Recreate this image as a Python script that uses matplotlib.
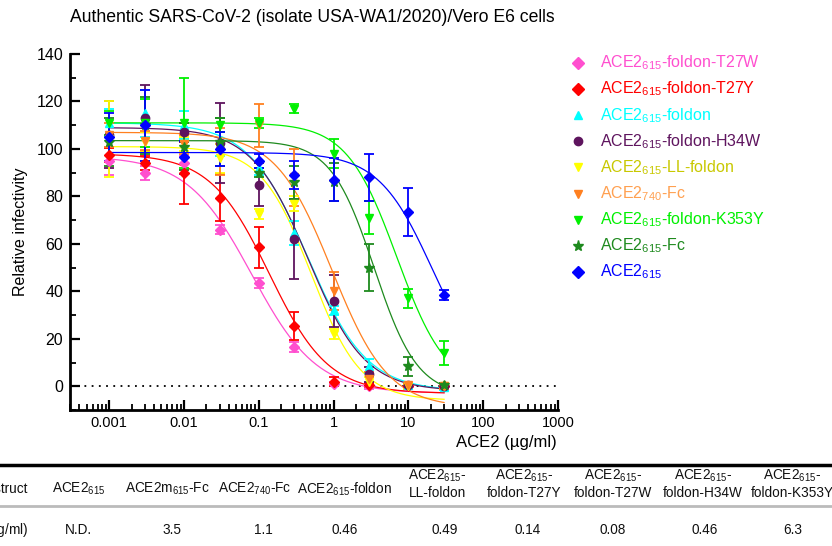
import numpy as np
import matplotlib
matplotlib.use("Agg")
import matplotlib.pyplot as plt
from matplotlib.lines import Line2D

plt.rcParams['font.family'] = ['Liberation Sans', 'DejaVu Sans']
plt.rcParams['mathtext.fontset'] = 'custom'
plt.rcParams['mathtext.rm'] = 'Liberation Sans'
plt.rcParams['mathtext.it'] = 'Liberation Sans:italic'
plt.rcParams['mathtext.bf'] = 'Liberation Sans:bold'

# concentrations (ug/ml)
conc = [0.001, 0.003, 0.01, 0.03, 0.1, 0.3, 1, 3, 10, 30]

# mean relative infectivity and error per construct
t27w = [95, 90, 94, 66, 43.5, 16.5, 1, 0, 0, 0]
t27w_err = [6, 3, 3, 2, 2, 2, 1, 1, 1, 1]
t27y = [97.5, 94, 90, 79.5, 58.5, 25.5, 2, 0.5, 0, 0]
t27y_err = [3, 3, 13, 10, 8.5, 6, 2, 1, 1, 1]
foldon = [111, 115, 110, 102, 92, 64.5, 32, 8.5, 0.5, -0.5]
foldon_err = [6, 10, 6, 5, 3, 5, 2, 3, 1, 1]
h34w = [106, 113, 107, 102.5, 85, 62, 36, 5, 0.5, 0]
h34w_err = [14, 14, 4, 17, 9, 17, 11, 3, 1, 1]
ll_foldon = [104, 103, 102, 96, 72.5, 77, 22, 2, 0, 0]
ll_foldon_err = [16, 4, 3, 6, 2, 3, 2, 2, 1, 1]
fc740 = [106, 103.5, 102, 99, 110, 88, 40, 3, 0.5, 0]
fc740_err = [5, 4, 4, 10, 9, 12, 8, 3, 1, 1]
k353y = [111, 111, 111, 110, 111, 117, 98, 71, 37, 14]
k353y_err = [5, 10, 19, 3, 2, 2, 6, 7, 4, 5]
fc615 = [103, 110, 101, 103, 90, 86, 86, 50, 8.5, 0.5]
fc615_err = [10, 12, 10, 10, 2, 7, 8, 10, 4, 1]
ace2_615 = [105, 110, 96.5, 100, 95, 89, 87, 88, 73.5, 38.5]
ace2_615_err = [10, 15, 7, 7, 3, 6, 9, 10, 10, 2]

# fitted dose-response parameters (top, bottom, IC50, hill)
fit_top = [97, 98, 111, 109, 101, 107, 111, 103.5, 98.5]
fit_bottom = [-3, -3, -2, -2, -6, -9, -2, -4, 0]
fit_ic50 = [0.081, 0.138, 0.45, 0.46, 0.5, 0.95, 7, 3.5, 21]
fit_hill = [1.0, 1.1, 1.1, 1.15, 1.3, 1.15, 1.3, 1.5, 1.2]

labels = [r'ACE2$_{615}$-foldon-T27W', r'ACE2$_{615}$-foldon-T27Y', r'ACE2$_{615}$-foldon',
          r'ACE2$_{615}$-foldon-H34W', r'ACE2$_{615}$-LL-foldon', r'ACE2$_{740}$-Fc',
          r'ACE2$_{615}$-foldon-K353Y', r'ACE2$_{615}$-Fc', r'ACE2$_{615}$']
means = [t27w, t27y, foldon, h34w, ll_foldon, fc740, k353y, fc615, ace2_615]
errs = [t27w_err, t27y_err, foldon_err, h34w_err, ll_foldon_err, fc740_err,
        k353y_err, fc615_err, ace2_615_err]
colors = ['#FF4FCF', '#FF0000', '#00FFFF', '#5E145E', '#FFFF00', '#FF8020',
          '#00F000', '#1E8A1E', '#0000FF']
text_colors = ['#FF4FCF', '#FF0000', '#00FFFF', '#5E145E', '#C8C800', '#FFA050',
               '#00F000', '#1E8A1E', '#0000FF']
markers = ['D', 'D', '^', 'o', 'v', 'v', 'v', '*', 'D']

# table
table_cols = ['Construct', r'ACE2$_{615}$', r'ACE2m$_{615}$-Fc', r'ACE2$_{740}$-Fc',
              r'ACE2$_{615}$-foldon', 'ACE2$_{615}$-\nLL-foldon', 'ACE2$_{615}$-\nfoldon-T27Y',
              'ACE2$_{615}$-\nfoldon-T27W', 'ACE2$_{615}$-\nfoldon-H34W', 'ACE2$_{615}$-\nfoldon-K353Y']
table_vals = [r'IC$_{50}$ (µg/ml)', 'N.D.', '3.5', '1.1', '0.46', '0.49', '0.14', '0.08', '0.46', '6.3']


def logistic(x, top, bottom, ic50, hill):
    return bottom + (top - bottom) / (1 + (x / ic50) ** hill)


W, H = 832, 546
fig = plt.figure(figsize=(W / 100, H / 100), dpi=100)
ax = fig.add_axes([70 / W, 1 - 410 / H, (558 - 70) / W, (410 - 54) / H])

xs = np.logspace(-3, np.log10(30), 300)
for i in range(len(means)):
    ax.plot(xs, logistic(xs, fit_top[i], fit_bottom[i], fit_ic50[i], fit_hill[i]),
            color=colors[i], lw=0.9, zorder=2)
for i in range(len(means)):
    ms = 7.5 if markers[i] == '*' else 6
    if markers[i] == 'D':
        ms = 5.5
    ax.errorbar(conc, means[i], yerr=errs[i], fmt=markers[i], color=colors[i],
                ms=ms, elinewidth=1.3, capsize=3.6, capthick=1.3, zorder=3)

ax.axhline(0, color='black', ls=(0, (1, 3)), lw=1.3, zorder=1)

ax.set_xscale('log')
ax.set_xlim(0.0003, 1000)
ax.set_ylim(-10, 140)
ax.set_yticks(range(0, 141, 20))
ax.set_yticks(range(-10, 141, 10), minor=True)
ax.set_xticks([0.001, 0.01, 0.1, 1, 10, 100, 1000])
ax.set_xticklabels(['0.001', '0.01', '0.1', '1', '10', '100', '1000'])
ax.tick_params(axis='both', which='major', direction='in', length=7, width=1.6)
ax.tick_params(axis='both', which='minor', direction='in', length=4, width=1.3)
ax.tick_params(axis='y', labelsize=11.5, pad=5)
ax.tick_params(axis='x', labelsize=10.5, pad=4)
ax.spines['top'].set_visible(False)
ax.spines['right'].set_visible(False)
ax.spines['left'].set_linewidth(2)
ax.spines['bottom'].set_linewidth(2)
ax.set_ylabel('Relative infectivity', fontsize=11.5, labelpad=6)

fig.text(70 / W, 1 - 18 / H, 'Authentic SARS-CoV-2 (isolate USA-WA1/2020)/Vero E6 cells',
         fontsize=12.7, ha='left', va='center')
fig.text(506 / W, 1 - 443 / H, 'ACE2 (µg/ml)', fontsize=12, ha='center', va='center')

# legend
for i in range(len(labels)):
    y = 1 - (63 + 26.1 * i) / H
    ms = 8 if markers[i] == '*' else 6
    fig.add_artist(Line2D([578 / W], [y], marker=markers[i], color=colors[i], ms=ms,
                          transform=fig.transFigure))
    fig.text(600 / W, y, labels[i], color=text_colors[i], fontsize=11.5, va='center')

# table
fig.add_artist(Line2D([0, 1], [1 - 465 / H] * 2, color='black', lw=2.5, transform=fig.transFigure))
fig.add_artist(Line2D([0, 1], [1 - 506 / H] * 2, color='#BBBBBB', lw=2, transform=fig.transFigure))
head_x = [28, 79, 167, 255, 344, 437, 524, 613, 703, 792]
val_x = [28, 78, 172, 263, 345, 445, 528, 613, 705, 793]
for j in range(len(table_cols)):
    ha = 'right' if j == 0 else 'center'
    yh = 484 if '\n' in table_cols[j] else 489
    fig.text(head_x[j] / W, 1 - yh / H, table_cols[j], fontsize=9.8, ha=ha, va='center',
             multialignment='center', linespacing=1.2, color='#111111')
    fig.text(val_x[j] / W, 1 - 530 / H, table_vals[j], fontsize=9.8, ha=ha, va='center',
             color='#111111')

fig.savefig('out.png', dpi=100)
